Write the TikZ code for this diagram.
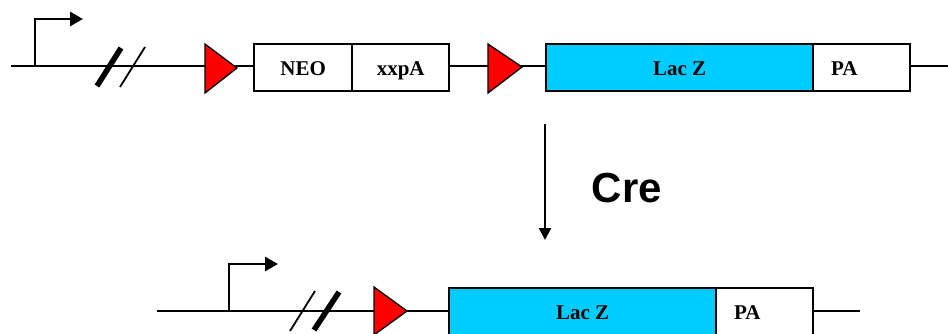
\documentclass[tikz,border=0pt]{standalone}
\usepackage{fontspec}
\setmainfont{Liberation Serif}
\setsansfont{Liberation Sans}
\usetikzlibrary{arrows.meta}
\definecolor{lacblue}{HTML}{00CCFF}
\definecolor{loxred}{HTML}{FF0000}
\tikzset{
  backbone/.style={line width=2.9pt},
  genebox/.style={draw, line width=2.4pt, minimum height=47pt, inner sep=0pt, anchor=west,
    text height=17pt, text depth=2pt,
    font=\fontsize{21}{24}\selectfont\bfseries},
  lacbox/.style={genebox, fill=lacblue},
  pabox/.style={genebox, fill=white, minimum width=97pt, text width=61pt, inner xsep=18pt, align=left},
  loxp/.style={fill=loxred, draw=black, line width=1.3pt},
  promoter/.style={line width=2.9pt, -{Triangle[length=13pt,width=14pt]}},
  thickslash/.style={line width=5.5pt},
  thinslash/.style={line width=1.8pt},
}
\begin{document}
\begin{tikzpicture}[x=1pt,y=-1pt]
\useasboundingbox (0,0) rectangle (948,333);
\clip (0,0) rectangle (948,333);
% ---------- top row ----------
\coordinate (tL) at (11,66);
\coordinate (tR) at (948,66);
\draw[backbone] (tL) -- (tR);
\coordinate (tP) at (35,66);
\coordinate (tPend) at (83,19);
\draw[promoter] (tP) |- (tPend);
\draw[thickslash] (97,86) -- (121,48);
\draw[thinslash] (120,87) -- (145,47);
\draw[loxp] (205,44) -- (237,68) -- (205,93) -- cycle;
\node[genebox, fill=white, minimum width=98pt] (neo) at (253,67.5) {NEO};
\node[genebox, fill=white, minimum width=97pt] (xxpa) at (351,67.5) {xxpA};
\draw[loxp] (488,44) -- (522,67) -- (488,93) -- cycle;
\node[lacbox, minimum width=267pt] (lacz1) at (545,67.5) {Lac Z};
\node[pabox] (pa1) at (812,67.5) {PA};
% ---------- arrow ----------
\coordinate (aS) at (545,124);
\coordinate (aE) at (545,240);
\draw[line width=2.4pt, -{Triangle[length=12pt,width=12pt]}] (aS) -- (aE);
\node[font=\sffamily\bfseries\fontsize{42}{48}\selectfont] (cre) at (627,188) {Cre};
% ---------- bottom row ----------
\coordinate (bL) at (157,311);
\coordinate (bR) at (860,311);
\draw[backbone] (bL) -- (bR);
\coordinate (bP) at (229,311);
\coordinate (bPend) at (278,264);
\draw[promoter] (bP) |- (bPend);
\draw[thinslash] (290,331) -- (315,291);
\draw[thickslash] (314,330) -- (339,292);
\draw[loxp] (374,287) -- (407,311) -- (374,335) -- cycle;
\node[lacbox, minimum width=267pt] (lacz2) at (448,311.5) {Lac Z};
\node[pabox] (pa2) at (715,311.5) {PA};
\end{tikzpicture}
\end{document}
